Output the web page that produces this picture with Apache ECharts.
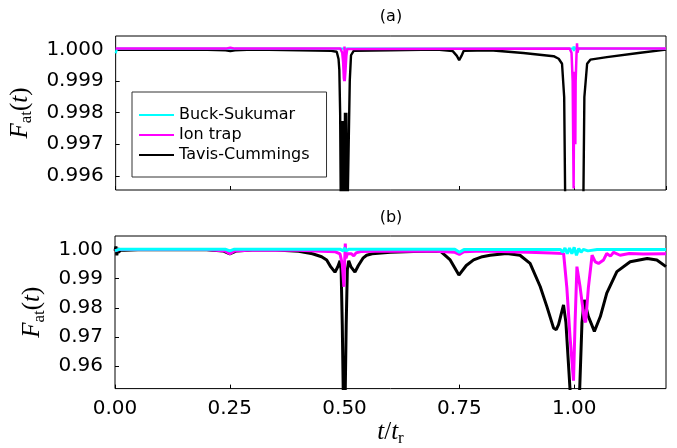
<!DOCTYPE html>
<html>
<head>
<meta charset="utf-8">
<script src="https://cdn.jsdelivr.net/npm/echarts@6.0.0/dist/echarts.min.js"></script>
<style>
  html, body { margin: 0; padding: 0; background: #fff; }
  #main { width: 677px; height: 448px; }
</style>
</head>
<body>
<div id="main"></div>
<script>
// series names and x ticks
const seriesNames = ['Buck-Sukumar', 'Ion trap', 'Tavis-Cummings']
const seriesColors = ['#00ffff', '#ff00ff', '#000000']

// (a) panel, [t/tr, F]
const bsTop = [
  [0, 0.99988], [0.003, 1.00003], [0.5, 1.00003], [0.998, 1.00003], [0.9986, 1.0001],
  [0.999, 0.99995], [1.0, 1.0001], [1.001, 1.00003], [1.2, 1.00003]
]
const ionTop = [
  [0, 1.00003], [0.24, 1.00003], [0.25, 1.00006], [0.26, 1.00003], [0.49, 1.00003],
  [0.494, 0.9999], [0.496, 0.9996], [0.4975, 0.9991], [0.4985, 0.999], [0.499, 1.0001],
  [0.4995, 0.999], [0.501, 0.9993], [0.503, 0.9998], [0.505, 1.00002], [0.99, 1.00003],
  [0.994, 0.9999], [0.9965, 0.999], [0.998, 0.9965], [0.9986, 0.9956], [0.9995, 0.998],
  [1.0, 0.9993], [1.001, 0.998], [1.0023, 0.997], [1.003, 0.999], [1.005, 0.9999],
  [1.006, 1.0002], [1.007, 0.9999], [1.009, 1.00003], [1.2, 1.00003]
]
const tcTop = [
  [0, 0.99999], [0.1, 1.0], [0.2, 0.99999], [0.24, 0.99998], [0.25, 0.99995],
  [0.26, 0.99998], [0.3, 1.0], [0.4, 0.99998], [0.47, 0.99996], [0.482, 0.99993],
  [0.486, 0.9997], [0.4877, 0.99936], [0.4895, 0.998], [0.4914, 0.994], [0.493, 0.994],
  [0.4945, 0.99774], [0.496, 0.994], [0.4975, 0.99774], [0.4985, 0.994], [0.5, 0.998],
  [0.5015, 0.994], [0.503, 0.998], [0.5045, 0.994], [0.508, 0.994], [0.5105, 0.99902],
  [0.5132, 0.99982], [0.519, 0.99996], [0.6, 0.99998], [0.7, 1.0], [0.735, 0.99995],
  [0.744, 0.9998], [0.749, 0.99966], [0.754, 0.9998], [0.759, 0.99996], [0.817, 0.99998],
  [0.889, 0.99989], [0.955, 0.99979], [0.966, 0.99971], [0.9733, 0.99955], [0.978, 0.99849],
  [0.981, 0.994], [1.019, 0.994], [1.022, 0.99849], [1.028, 0.99955], [1.035, 0.99968],
  [1.071, 0.99976], [1.144, 0.9999], [1.2, 1.0]
]

// (b) panel
const bsBot = [
  [0, 0.9995], [0.01, 1.0001], [0.24, 1.0001], [0.25, 0.9995], [0.26, 1.0001],
  [0.49, 1.0001], [0.497, 0.9995], [0.5, 1.0005], [0.503, 0.9995], [0.51, 1.0001],
  [0.74, 1.0001], [0.75, 0.999], [0.76, 1.0], [0.97, 1.0], [0.975, 0.999],
  [0.98, 1.0005], [0.985, 0.9985], [0.99, 1.0005], [0.995, 0.9985], [1.0, 1.0007],
  [1.005, 0.998], [1.01, 1.0003], [1.015, 0.999], [1.02, 1.0], [1.03, 0.9995],
  [1.05, 1.0], [1.2, 1.0]
]
const ionBot = [
  [0, 0.9995], [0.01, 1.0], [0.2, 1.0], [0.24, 0.9995], [0.25, 0.9985], [0.26, 0.9995],
  [0.3, 0.9998], [0.4, 0.9997], [0.45, 0.9994], [0.48, 0.9992], [0.49, 0.9985],
  [0.495, 0.995], [0.4985, 0.9872], [0.5, 0.995], [0.5015, 1.002], [0.503, 0.997],
  [0.506, 0.9985], [0.51, 0.999], [0.515, 0.9985], [0.52, 0.9978], [0.525, 0.9988],
  [0.535, 0.9993], [0.6, 0.9995], [0.7, 0.9994], [0.74, 0.999], [0.75, 0.9983],
  [0.76, 0.9992], [0.8, 0.9995], [0.9, 0.999], [0.95, 0.9988], [0.977, 0.9986],
  [0.984, 0.987], [0.991, 0.970], [0.9986, 0.955], [1.002, 0.975], [1.006, 0.9941],
  [1.013, 0.987], [1.022, 0.976], [1.025, 0.975], [1.031, 0.987], [1.039, 0.998],
  [1.046, 0.9957], [1.053, 0.9952], [1.064, 0.9964], [1.071, 0.9986], [1.079, 0.9977],
  [1.086, 0.999], [1.1, 0.998], [1.12, 0.9986], [1.15, 0.9984], [1.2, 0.9985]
]
const tcBot = [
  [0, 0.9995], [0.002, 1.001], [0.004, 0.998], [0.006, 1.0005], [0.008, 0.999],
  [0.012, 0.9998], [0.02, 0.9997], [0.05, 0.9999], [0.1, 1.0], [0.2, 0.9999],
  [0.235, 0.9995], [0.25, 0.9985], [0.265, 0.9995], [0.3, 0.9998], [0.35, 0.9998],
  [0.4, 0.9994], [0.43, 0.9985], [0.45, 0.9975], [0.461, 0.9964], [0.47, 0.994],
  [0.479, 0.9922], [0.485, 0.994], [0.49, 0.9961], [0.4925, 0.993], [0.495, 0.974],
  [0.4993, 0.927], [0.5035, 0.974], [0.506, 0.993], [0.509, 0.9961], [0.514, 0.994],
  [0.5226, 0.9922], [0.53, 0.9945], [0.54, 0.997], [0.548, 0.998], [0.56, 0.9985],
  [0.6, 0.999], [0.65, 0.9993], [0.708, 0.9995], [0.73, 0.9964], [0.749, 0.9912],
  [0.765, 0.9945], [0.781, 0.9964], [0.8, 0.9975], [0.817, 0.998], [0.853, 0.9986],
  [0.882, 0.998], [0.904, 0.9952], [0.926, 0.9873], [0.9406, 0.9804], [0.955, 0.9731],
  [0.961, 0.9725], [0.966, 0.9742], [0.9768, 0.981], [0.982, 0.975], [0.991, 0.952],
  [0.994, 0.94], [1.009, 0.94], [1.012, 0.952], [1.017, 0.975], [1.022, 0.9827],
  [1.031, 0.977], [1.044, 0.9719], [1.057, 0.977], [1.071, 0.985], [1.093, 0.9924],
  [1.122, 0.9958], [1.159, 0.9969], [1.18, 0.9964], [1.2, 0.9941]
]

const main = document.getElementById('main')
const myChart = echarts.init(main, null, { renderer: 'canvas' })

const labelFont = { fontFamily: 'DejaVu Sans', fontSize: 20, color: '#000' }
const mathRich = {
  it: { fontFamily: 'Liberation Serif', fontStyle: 'italic', fontSize: 25, lineHeight: 30, color: '#000' },
  p: { fontFamily: 'Liberation Serif', fontSize: 25, lineHeight: 30, color: '#000' },
  sub: { fontFamily: 'Liberation Serif', fontSize: 17, lineHeight: 17, verticalAlign: 'bottom', color: '#000' }
}
const yName = '{it|F}{sub|at}{p|(}{it|t}{p|)}'

function xAxisOf(idx, showLabel) {
  return {
    type: 'value', gridIndex: idx, min: 0, max: 1.2, interval: 0.25,
    axisLine: { show: false },
    axisTick: { inside: true, length: 4, lineStyle: { color: '#000' } },
    splitLine: { show: false },
    axisLabel: {
      show: showLabel, margin: 10, showMaxLabel: false,
      formatter: v => v.toFixed(2), ...labelFont
    },
    name: showLabel ? '{it|t}{p|/}{it|t}{sub|r}' : '',
    nameLocation: 'middle', nameGap: 28,
    nameTextStyle: { rich: mathRich }
  }
}
function yAxisOf(idx, min, max, digits, gap) {
  return {
    type: 'value', gridIndex: idx, min: min, max: max, splitNumber: 5,
    axisLine: { show: false },
    axisTick: { inside: true, length: 4, lineStyle: { color: '#000' } },
    splitLine: { show: false },
    axisLabel: {
      margin: 12, showMinLabel: false, showMaxLabel: false,
      formatter: v => v.toFixed(digits), ...labelFont
    },
    name: yName, nameLocation: 'middle', nameRotate: 90, nameGap: gap,
    nameTextStyle: { rich: mathRich }
  }
}
function lineOf(name, data, idx, width) {
  const c = seriesColors[seriesNames.indexOf(name)]
  return {
    name: name, type: 'line', xAxisIndex: idx, yAxisIndex: idx,
    data: data, showSymbol: false, symbol: 'none', clip: true,
    color: c, lineStyle: { color: c, width: width }
  }
}

const option = {
  animation: false,
  backgroundColor: '#fff',
  grid: [
    { left: 115, right: 11, top: 36, height: 154, show: true, borderColor: '#000', borderWidth: 1 },
    { left: 115, right: 11, top: 236, height: 153, show: true, borderColor: '#000', borderWidth: 1 }
  ],
  xAxis: [xAxisOf(0, false), xAxisOf(1, true)],
  yAxis: [
    yAxisOf(0, 0.99555, 1.00043, 3, 76),
    yAxisOf(1, 0.9523, 1.0046, 2, 59)
  ],
  legend: {
    data: seriesNames, orient: 'vertical', left: 132, top: 92,
    backgroundColor: '#fff', borderColor: '#333', borderWidth: 1, borderRadius: 0,
    padding: [15, 17, 14, 7], itemGap: 4, itemWidth: 35, itemHeight: 2, icon: 'rect',
    textStyle: { fontFamily: 'DejaVu Sans', fontSize: 16, color: '#000' }
  },
  graphic: [
    { type: 'text', style: { text: '(a)', x: 391, y: 17, align: 'center', verticalAlign: 'middle', font: '16px "DejaVu Sans"', fill: '#000' } },
    { type: 'text', style: { text: '(b)', x: 391, y: 218, align: 'center', verticalAlign: 'middle', font: '16px "DejaVu Sans"', fill: '#000' } }
  ],
  series: [
    lineOf('Tavis-Cummings', tcTop, 0, 2.4),
    lineOf('Buck-Sukumar', bsTop, 0, 2.2),
    lineOf('Ion trap', ionTop, 0, 2.5),
    lineOf('Tavis-Cummings', tcBot, 1, 3),
    lineOf('Ion trap', ionBot, 1, 3),
    lineOf('Buck-Sukumar', bsBot, 1, 3)
  ]
}
myChart.setOption(option)
</script>
</body>
</html>
